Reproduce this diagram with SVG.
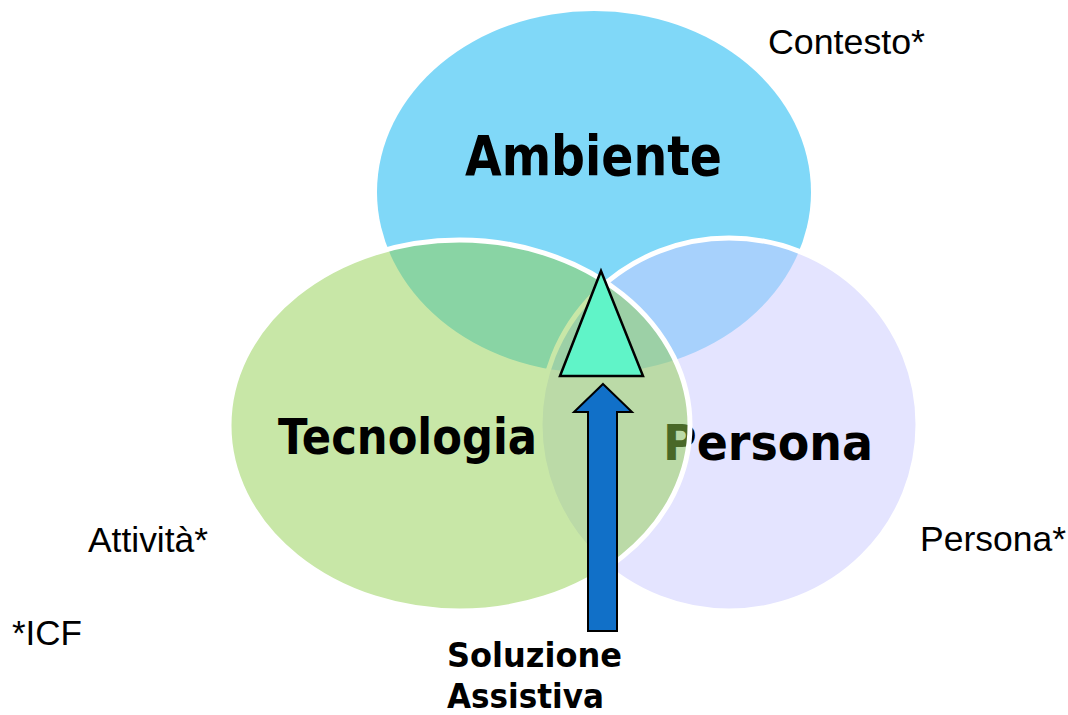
<svg xmlns="http://www.w3.org/2000/svg" width="1068" height="715" viewBox="0 0 1068 715">
<style>
.big{font-family:"DejaVu Sans",Verdana,sans-serif;font-weight:bold;fill:#000}
.small{font-family:"Liberation Sans",Arial,sans-serif;font-size:35px;fill:#000}
.ring{stroke:#fff;stroke-width:5}
</style>
<rect width="1068" height="715" fill="#fff"/>
<g id="ambiente">
<ellipse cx="594" cy="192" rx="217" ry="181" fill="#80D8F8"/>
<text class="big" x="465" y="175" font-size="55" textLength="257" lengthAdjust="spacingAndGlyphs">Ambiente</text>
</g>
<g id="persona">
<ellipse class="ring" cx="729" cy="424.5" rx="189" ry="186.5" fill="#CCCCFF" fill-opacity="0.52"/>
<text class="big" x="663" y="460" font-size="49" textLength="210" lengthAdjust="spacingAndGlyphs">Persona</text>
</g>
<g id="tecnologia">
<ellipse class="ring" cx="459.5" cy="425.5" rx="230.5" ry="185.5" fill="#92D050" fill-opacity="0.5"/>
<text class="big" x="278" y="454" font-size="49" textLength="259" lengthAdjust="spacingAndGlyphs">Tecnologia</text>
</g>
<g id="soluzione">
<polygon points="601,271 643,376 560,376" fill="#60F4C8" stroke="#000" stroke-width="2.5" stroke-linejoin="miter"/>
</g>
<g id="connectors">
<polygon points="603,384 632,412 617,412 617,631 588,631 588,412 574,412" fill="#1170C8" stroke="#000" stroke-width="2"/>
</g>
<g id="label-soluzione">
<text class="big" x="447" y="667" font-size="33" textLength="175" lengthAdjust="spacingAndGlyphs">Soluzione</text>
<text class="big" x="447" y="708" font-size="33" textLength="157" lengthAdjust="spacingAndGlyphs">Assistiva</text>
</g>
<g id="notes">
<text class="small" x="768" y="54" textLength="157" lengthAdjust="spacingAndGlyphs">Contesto*</text>
<text class="small" x="88" y="552" textLength="120" lengthAdjust="spacingAndGlyphs">Attività*</text>
<text class="small" x="920" y="551" textLength="146" lengthAdjust="spacingAndGlyphs">Persona*</text>
<text class="small" x="12" y="645" textLength="70" lengthAdjust="spacingAndGlyphs">*ICF</text>
</g>
</svg>
